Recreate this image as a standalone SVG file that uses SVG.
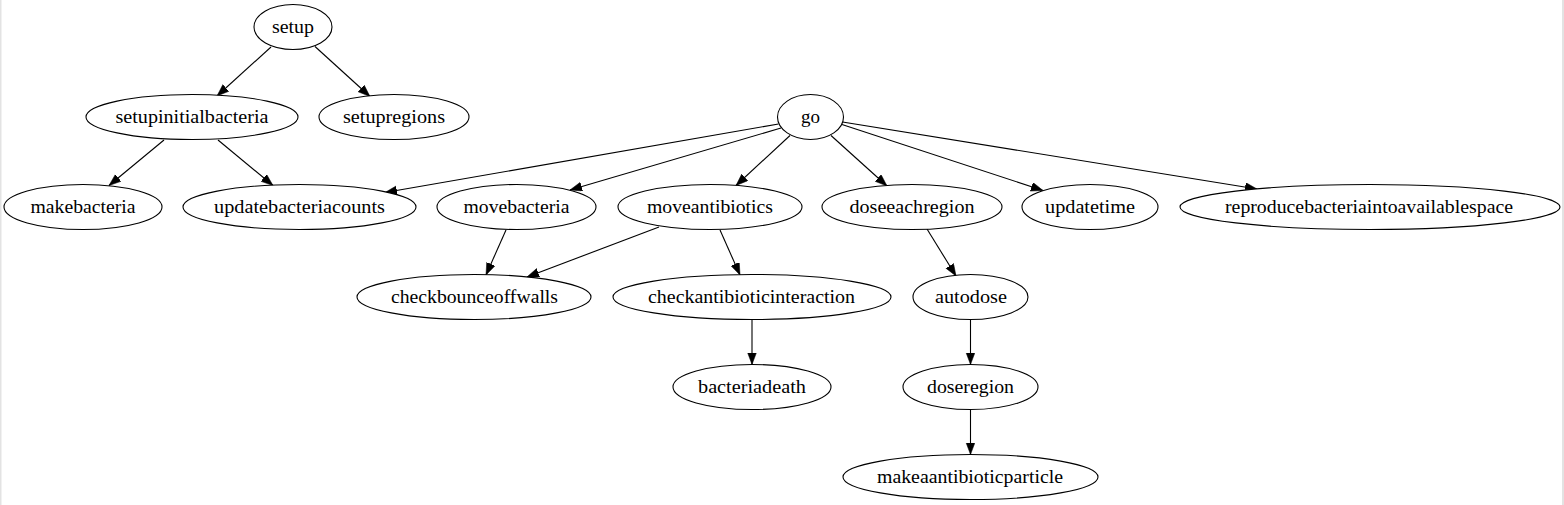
<svg xmlns="http://www.w3.org/2000/svg" width="1564" height="505" viewBox="0 0 1564 505">
<style>
.n ellipse{fill:#fff;stroke:#000;stroke-width:1.1}
.n text{font-family:"Liberation Serif","Times New Roman",serif;font-size:19.5px;fill:#000;text-anchor:middle}
.e line{stroke:#000;stroke-width:1.1;marker-end:url(#ah)}
</style>
<defs>
<marker id="ah" markerUnits="userSpaceOnUse" markerWidth="13" markerHeight="10" refX="12" refY="4.5" orient="auto">
<path d="M0,0 L12,4.5 L0,9 z" fill="#000" stroke="#000" stroke-width="0.5"/>
</marker>
</defs>
<rect x="0" y="0" width="1564" height="505" fill="#fff"/>
<rect x="0" y="0" width="1.5" height="505" fill="#e3e3e3"/>
<rect x="1562" y="0" width="2" height="505" fill="#e3e3e3"/>
<g id="edges" class="e">
<line x1="271" y1="47" x2="217" y2="96"/>
<line x1="315" y1="46.5" x2="370" y2="96.5"/>
<line x1="164" y1="140" x2="109" y2="185.5"/>
<line x1="218" y1="140" x2="273" y2="185.5"/>
<line x1="778.5" y1="124" x2="385" y2="192.5"/>
<line x1="781" y1="128" x2="570" y2="190"/>
<line x1="790" y1="135.5" x2="736" y2="185.5"/>
<line x1="831" y1="135.5" x2="887" y2="186"/>
<line x1="842" y1="124.5" x2="1043" y2="190.5"/>
<line x1="842.5" y1="122" x2="1257" y2="189"/>
<line x1="506" y1="230" x2="486" y2="275"/>
<line x1="659" y1="227" x2="527" y2="277"/>
<line x1="720" y1="230" x2="740" y2="275"/>
<line x1="752" y1="319.5" x2="752" y2="364.5"/>
<line x1="927" y1="229" x2="956" y2="276"/>
<line x1="970.5" y1="319.5" x2="970.5" y2="364.5"/>
<line x1="970.5" y1="409.5" x2="970.5" y2="454.5"/>
</g>
<g id="setup" class="n"><ellipse cx="293" cy="27" rx="39" ry="22.5"/><text x="293" y="33" textLength="42" lengthAdjust="spacingAndGlyphs">setup</text></g>
<g id="setupinitialbacteria" class="n"><ellipse cx="192" cy="117" rx="106" ry="22.5"/><text x="192" y="123" textLength="153" lengthAdjust="spacingAndGlyphs">setupinitialbacteria</text></g>
<g id="setupregions" class="n"><ellipse cx="394" cy="117" rx="75" ry="22.5"/><text x="394" y="123" textLength="102" lengthAdjust="spacingAndGlyphs">setupregions</text></g>
<g id="go" class="n"><ellipse cx="810.5" cy="117" rx="33" ry="22.5"/><text x="810.5" y="123" textLength="19" lengthAdjust="spacingAndGlyphs">go</text></g>
<g id="makebacteria" class="n"><ellipse cx="83" cy="207" rx="79" ry="22.5"/><text x="83" y="213" textLength="105" lengthAdjust="spacingAndGlyphs">makebacteria</text></g>
<g id="updatebacteriacounts" class="n"><ellipse cx="299.5" cy="207" rx="116.5" ry="22.5"/><text x="299.5" y="213" textLength="171" lengthAdjust="spacingAndGlyphs">updatebacteriacounts</text></g>
<g id="movebacteria" class="n"><ellipse cx="516.5" cy="207" rx="79.5" ry="22.5"/><text x="516.5" y="213" textLength="106" lengthAdjust="spacingAndGlyphs">movebacteria</text></g>
<g id="moveantibiotics" class="n"><ellipse cx="710" cy="207" rx="92" ry="22.5"/><text x="710" y="213" textLength="126" lengthAdjust="spacingAndGlyphs">moveantibiotics</text></g>
<g id="doseeachregion" class="n"><ellipse cx="912" cy="207" rx="90" ry="22.5"/><text x="912" y="213" textLength="125" lengthAdjust="spacingAndGlyphs">doseeachregion</text></g>
<g id="updatetime" class="n"><ellipse cx="1090" cy="207" rx="68" ry="22.5"/><text x="1090" y="213" textLength="90" lengthAdjust="spacingAndGlyphs">updatetime</text></g>
<g id="reproducebacteriaintoavailablespace" class="n"><ellipse cx="1370" cy="207" rx="190" ry="22.5"/><text x="1369" y="213" textLength="288" lengthAdjust="spacingAndGlyphs">reproducebacteriaintoavailablespace</text></g>
<g id="checkbounceoffwalls" class="n"><ellipse cx="474" cy="297" rx="117" ry="22.5"/><text x="474.5" y="303" textLength="167" lengthAdjust="spacingAndGlyphs">checkbounceoffwalls</text></g>
<g id="checkantibioticinteraction" class="n"><ellipse cx="752" cy="297" rx="139" ry="22.5"/><text x="751.5" y="303" textLength="207" lengthAdjust="spacingAndGlyphs">checkantibioticinteraction</text></g>
<g id="autodose" class="n"><ellipse cx="970.5" cy="297" rx="57.5" ry="22.5"/><text x="971" y="303" textLength="72" lengthAdjust="spacingAndGlyphs">autodose</text></g>
<g id="bacteriadeath" class="n"><ellipse cx="752" cy="387" rx="79" ry="22.5"/><text x="752" y="393" textLength="108" lengthAdjust="spacingAndGlyphs">bacteriadeath</text></g>
<g id="doseregion" class="n"><ellipse cx="970.5" cy="387" rx="67.5" ry="22.5"/><text x="970.5" y="393" textLength="87" lengthAdjust="spacingAndGlyphs">doseregion</text></g>
<g id="makeaantibioticparticle" class="n"><ellipse cx="970.5" cy="477" rx="127.5" ry="22.5"/><text x="970" y="483" textLength="186" lengthAdjust="spacingAndGlyphs">makeaantibioticparticle</text></g>
</svg>
